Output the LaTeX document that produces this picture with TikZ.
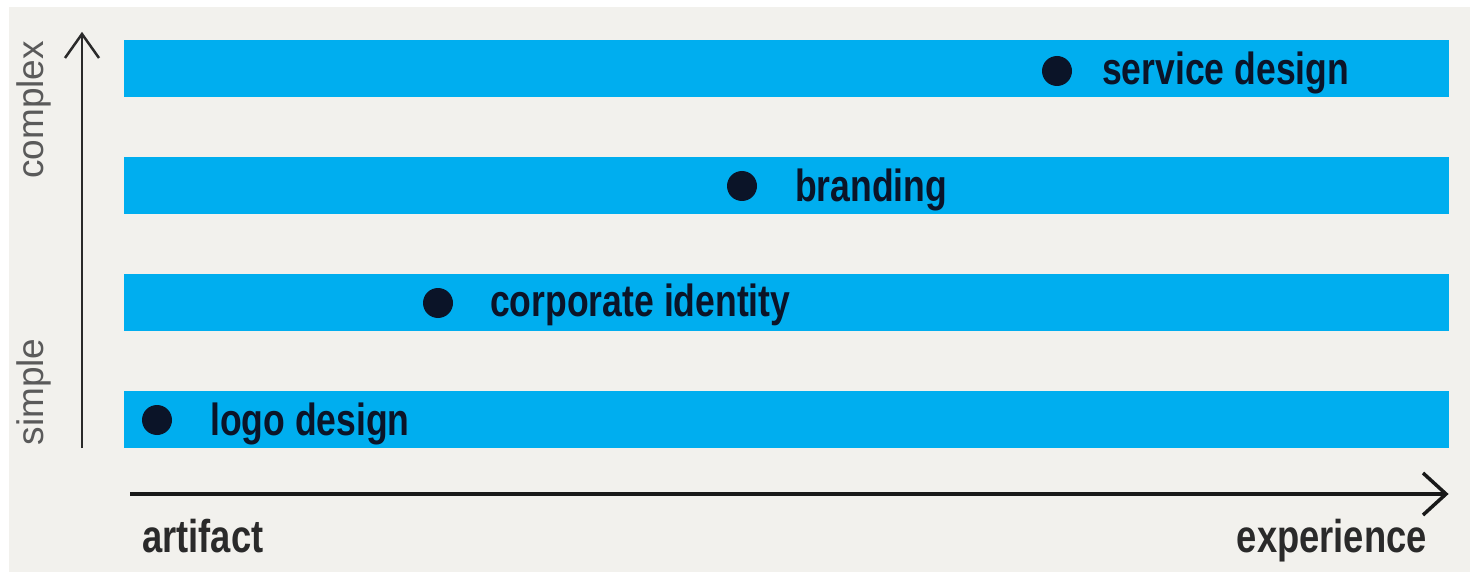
\documentclass[tikz,border=0pt]{standalone}
\usepackage{fontspec}
\setmainfont{Liberation Sans}
\newfontfamily\condfont{Liberation Sans}[FakeStretch=0.79]
\newfontfamily\lightfont{Liberation Sans}
\definecolor{bgcol}{HTML}{F2F1ED}
\definecolor{bandblue}{HTML}{00AEEF}
\definecolor{dotcol}{HTML}{0B1428}
\definecolor{axiscol}{HTML}{2A2A2A}
\definecolor{sidecol}{HTML}{5A5A5A}
\tikzset{
  band/.style={fill=bandblue, draw=none},
  dotmark/.style={circle, fill=dotcol, draw=none, minimum size=30pt, inner sep=0pt},
  itemlabel/.style={anchor=base west, inner sep=0pt, text=dotcol, font=\condfont\bfseries\fontsize{45}{54}\selectfont},
  axislabel/.style={inner sep=0pt, text=axiscol, font=\condfont\bfseries\fontsize{46}{55}\selectfont},
  sidelabel/.style={inner sep=0pt, rotate=90, anchor=base, text=sidecol, font=\lightfont\fontsize{37}{44}\selectfont},
  axisline/.style={draw=axiscol, line cap=butt, line join=miter},
}
\begin{document}
\begin{tikzpicture}[x=1pt, y=-1pt]
\useasboundingbox (0,0) rectangle (1470,572);
\fill[white] (0,0) rectangle (1470,572);
\fill[bgcol] (9,7) rectangle (1470,572);
% bands
\foreach \t in {40,157,274,391}{
  \path[band] (124,\t) rectangle (1449,\t+57);
}
% dots and labels
\node[dotmark] (d1) at (1057,71) {};
\node[itemlabel] (l1) at (1102,85) {service design};
\node[dotmark] (d2) at (742,186) {};
\node[itemlabel] (l2) at (795,202) {branding};
\node[dotmark] (d3) at (438,303) {};
\node[itemlabel] (l3) at (490,316) {corporate identity};
\node[dotmark] (d4) at (157,420) {};
\node[itemlabel] (l4) at (210,435) {logo design};
% vertical axis
\coordinate (vbot) at (82,448);
\coordinate (vtop) at (82,34);
\draw[axisline, line width=2.5pt] (vbot) -- (vtop);
\draw[axisline, line width=2.5pt] ([shift={(-17,24)}]vtop) -- (vtop) -- ([shift={(17,24)}]vtop);
% horizontal axis
\coordinate (hleft) at (130,494);
\coordinate (hright) at (1446,494);
\draw[axisline, line width=3.5pt, draw=black!90] (hleft) -- (hright);
\draw[axisline, line width=3.5pt, draw=black!90] ([shift={(-23,-21)}]hright) -- (hright) -- ([shift={(-23,21)}]hright);
% axis labels
\node[axislabel, anchor=base west] (art) at (142,552) {artifact};
\node[axislabel, anchor=base east] (exp) at (1427,552) {experience};
\node[sidelabel] (cx) at (43,110) {complex};
\node[sidelabel] (sp) at (43,392) {simple};
\end{tikzpicture}
\end{document}
